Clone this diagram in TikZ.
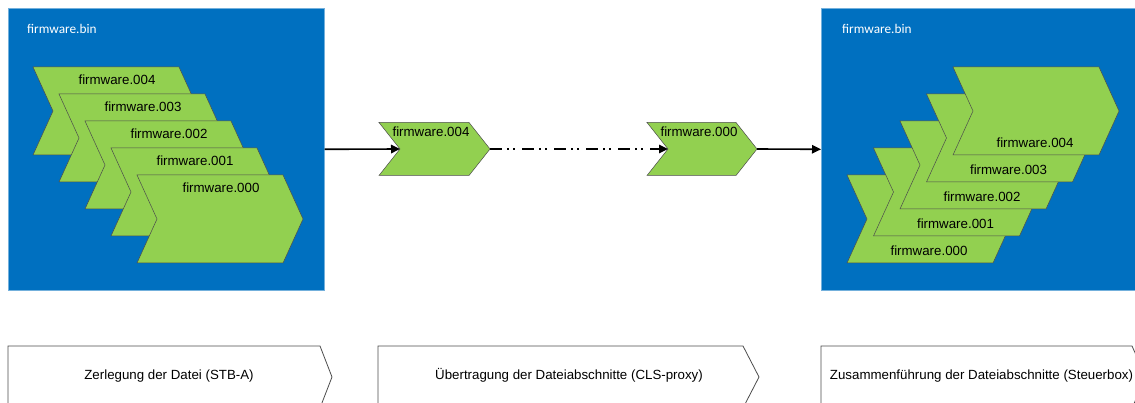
\documentclass[tikz,border=0pt]{standalone}
\usepackage{fontspec}
\setmainfont{Liberation Sans}
\newfontfamily\calibrifont{Carlito}
\usetikzlibrary{arrows.meta}
\definecolor{binblue}{RGB}{0,112,192}
\definecolor{partgreen}{RGB}{146,208,80}

% chevron: {name}{x}{y}{width}{height}{point depth}
% defines (name-in) at the notch and (name-out) at the point
\newcommand\chev[6]{%
  \draw[part] (#2,#3) -- ++(#4,0) -- ++(#6,#5/2) -- ++(-#6,#5/2)
    -- ++(-#4,0) -- ++(#6,-#5/2) -- cycle;
  \coordinate (#1-in) at (#2+#6,#3+#5/2);
  \coordinate (#1-out) at (#2+#4+#6,#3+#5/2);
}
% process stage: flat left side, pointed right side
\newcommand\stagearrow[6]{%
  \draw[stage] (#2,#3) -- ++(#4,0) -- ++(#6,#5/2) -- ++(-#6,#5/2)
    -- ++(-#4,0) -- cycle;
  \coordinate (#1-out) at (#2+#4+#6,#3+#5/2);
}

\begin{document}
\begin{tikzpicture}[x=1pt,y=-1pt,
  binbox/.style={fill=binblue, draw=binblue!55!white, line width=0.6pt,
    inner sep=0pt, anchor=north west},
  part/.style={fill=partgreen, draw=black!70, line width=0.5pt},
  partlabel/.style={font=\fontsize{13.3}{16}\selectfont, anchor=base, inner sep=0pt},
  binlabel/.style={font=\calibrifont\fontsize{13.3}{16}\selectfont, text=white,
    anchor=base west, inner sep=0pt},
  stage/.style={fill=white, draw=black!70, line width=0.8pt},
  stagelabel/.style={font=\fontsize{13.3}{16}\selectfont, anchor=base, inner sep=0pt},
  flow/.style={line width=1.6pt, -{Triangle[length=9pt,width=8.5pt]}},
]
\clip (0,0) rectangle (1135,403);

% file containers
\node[binbox, minimum width=316pt, minimum height=282pt] (binL) at (8,8) {};
\node[binbox, minimum width=316pt, minimum height=282pt] (binR) at (821,8) {};
\node[binlabel] (binL-label) at (27,34) {firmware.bin};
\node[binlabel] (binR-label) at (842,34) {firmware.bin};

% split file: parts stacked from back (.004) to front (.000)
\foreach \i/\n in {0/004,1/003,2/002,3/001,4/000} {
  \chev{L\n}{33+26*\i}{67+27*\i}{146}{88}{20}
  \node[partlabel] (L\n-label) at (33+26*\i+84,67+27*\i+18) {firmware.\n};
}

% merged file: parts stacked from back (.000) to front (.004)
\foreach \i/\n in {4/000,3/001,2/002,1/003,0/004} {
  \chev{R\n}{953-26.5*\i}{67+27*\i}{146}{88}{20}
  \node[partlabel] (R\n-label) at (953-26.5*\i+82,67+27*\i+81) {firmware.\n};
}

% parts in transit
\chev{M4}{379}{122.5}{90}{53}{21}
\node[partlabel] (M4-label) at (431,137) {firmware.004};
\chev{M0}{647}{122.5}{89}{53}{21}
\node[partlabel] (M0-label) at (699,137) {firmware.000};

\draw[flow] (binL.east) -- (M4-in);
\draw[flow, dash pattern=on 12pt off 5pt on 2pt off 4pt on 2pt off 7pt] (M4-out) -- (M0-in);
\draw[flow] (M0-out) -- (binR.west);

% process stages
\stagearrow{S1}{8}{346}{312}{62}{12}
\stagearrow{S2}{378}{346}{365}{62}{16}
\stagearrow{S3}{821}{346}{311}{62}{14}
\node[stagelabel] (S1-label) at (169,379) {Zerlegung der Datei (STB-A)};
\node[stagelabel] (S2-label) at (569,379) {Übertragung der Dateiabschnitte (CLS-proxy)};
\node[stagelabel] (S3-label) at (981.5,379) {Zusammenführung der Dateiabschnitte (Steuerbox)};
\end{tikzpicture}
\end{document}
